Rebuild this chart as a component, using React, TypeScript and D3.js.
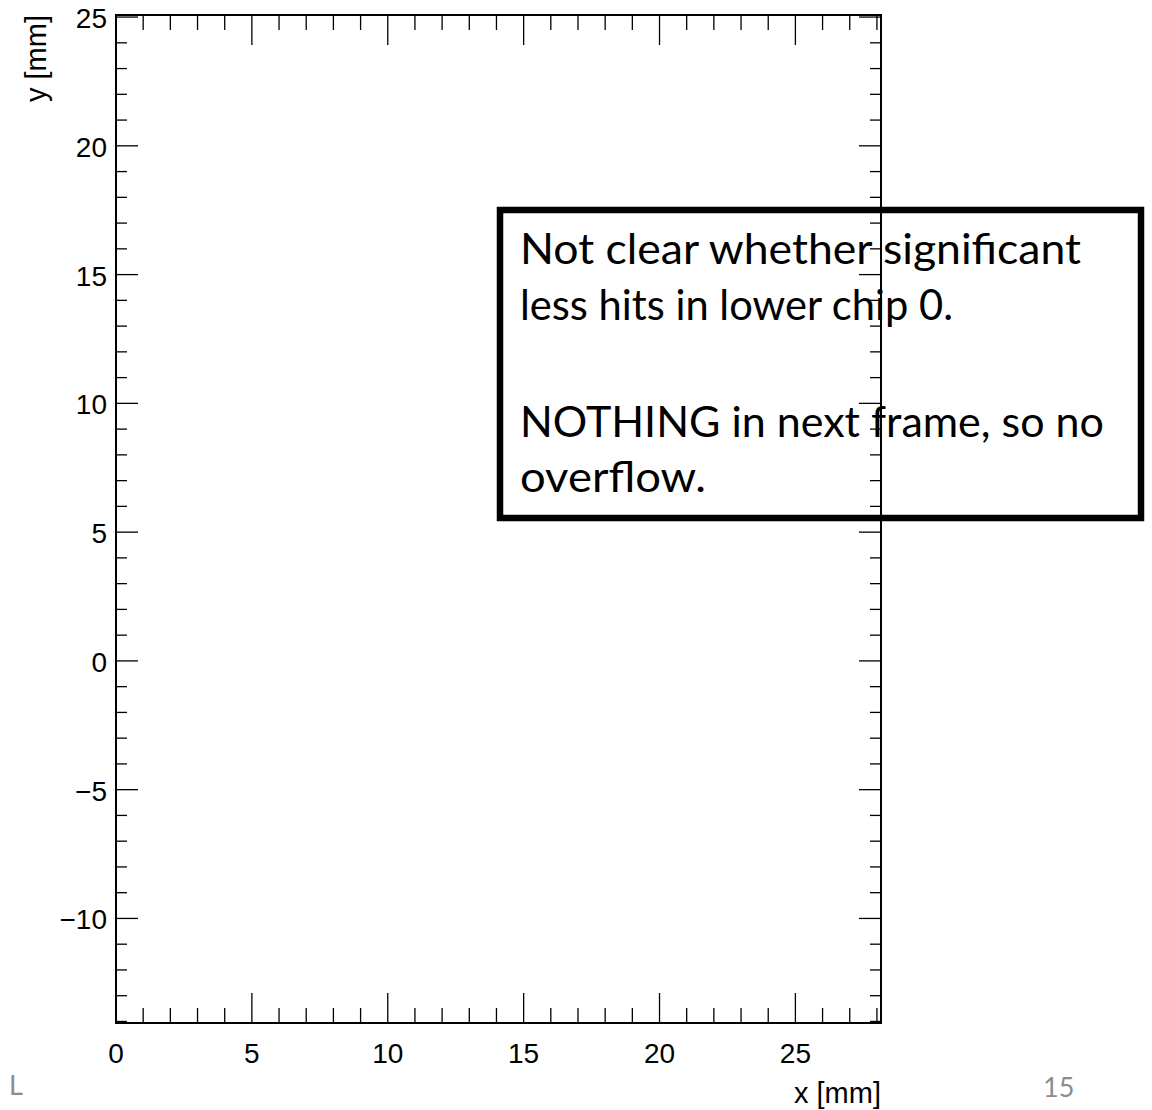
import React from "react";
import * as d3 from "d3";

const xDomain = [0, 28.15];
const yDomain = [-14.06, 25.08];
const xMajorTicks = [0, 5, 10, 15, 20, 25];
const yMajorTicks = [-10, -5, 0, 5, 10, 15, 20, 25];
const xMinorTicks = d3.range(0, 29, 1);
const yMinorTicks = d3.range(-14, 26, 1);
const xAxisTitle = "x [mm]";
const yAxisTitle = "y [mm]";
const noteLines = [
  "Not clear whether significant",
  "less hits in lower chip 0.",
  "",
  "NOTHING in next frame, so no",
  "overflow.",
];
const noteWidths = [561, 433, 0, 584, 186];
const pageNumber = "15";
const footerLeft = "L";

const W = 1152;
const H = 1110;
const L = 116, R = 881, T = 15, B = 1023;

const fmt = (v: number) => (v < 0 ? "\u2212" + Math.abs(v) : String(v));

export default function App() {
  React.useEffect(() => {
    document.body.style.margin = "0";
  }, []);
  const x = d3.scaleLinear().domain(xDomain).range([L, R]);
  const y = d3.scaleLinear().domain(yDomain).range([B, T]);
  const isMajor = (v: number) => v % 5 === 0;
  const axisFont = "'Liberation Sans', Arial, Helvetica, sans-serif";
  const noteBaselines = [264, 320, 378, 437, 492];
  return (
    <svg width={W} height={H} style={{ position: "absolute", left: 0, top: 0, background: "#fff" }}>
      <rect x={0} y={0} width={W} height={H} fill="#fff" />
      <g fontFamily="Lato, 'Open Sans', sans-serif" fontSize={43} fill="#000">
        {noteLines.map((t, i) =>
          t ? (
            <text key={i} x={520} y={noteBaselines[i]} textLength={noteWidths[i]} lengthAdjust="spacingAndGlyphs">
              {t}
            </text>
          ) : null
        )}
      </g>
      <g stroke="#000" strokeWidth={1.3}>
        {xMinorTicks.filter((v) => x(v) <= R).map((v) => {
          const len = isMajor(v) ? 30 : 15;
          return (
            <g key={"x" + v}>
              <line x1={x(v)} x2={x(v)} y1={B} y2={B - len} />
              <line x1={x(v)} x2={x(v)} y1={T} y2={T + len} />
            </g>
          );
        })}
        {yMinorTicks.filter((v) => y(v) >= T).map((v) => {
          const len = isMajor(v) ? 22 : 11;
          return (
            <g key={"y" + v}>
              <line x1={L} x2={L + len} y1={y(v)} y2={y(v)} />
              <line x1={R} x2={R - len} y1={y(v)} y2={y(v)} />
            </g>
          );
        })}
      </g>
      <rect x={L} y={T} width={R - L} height={B - T} fill="none" stroke="#000" strokeWidth={2} />
      <g fontFamily={axisFont} fontSize={28} fill="#000">
        {xMajorTicks.map((v) => (
          <text key={"xl" + v} x={x(v)} y={1063} textAnchor="middle">
            {fmt(v)}
          </text>
        ))}
        {yMajorTicks.map((v) => (
          <text key={"yl" + v} x={107} y={y(v) + 11} textAnchor="end">
            {fmt(v)}
          </text>
        ))}
        <text x={R} y={1103} textAnchor="end" fontSize={29}>{xAxisTitle}</text>
        <text transform={`translate(46,${T}) rotate(-90)`} textAnchor="end" fontSize={29}>{yAxisTitle}</text>
      </g>
      <rect x={500} y={210} width={641} height={308} fill="none" stroke="#000" strokeWidth={6.5} />
      <g fontFamily="Lato, 'Open Sans', sans-serif" fill="#8c8c8c" fontSize={27}>
        <text x={9} y={1095}>{footerLeft}</text>
        <text x={1043} y={1097}>{pageNumber}</text>
      </g>
    </svg>
  );
}
